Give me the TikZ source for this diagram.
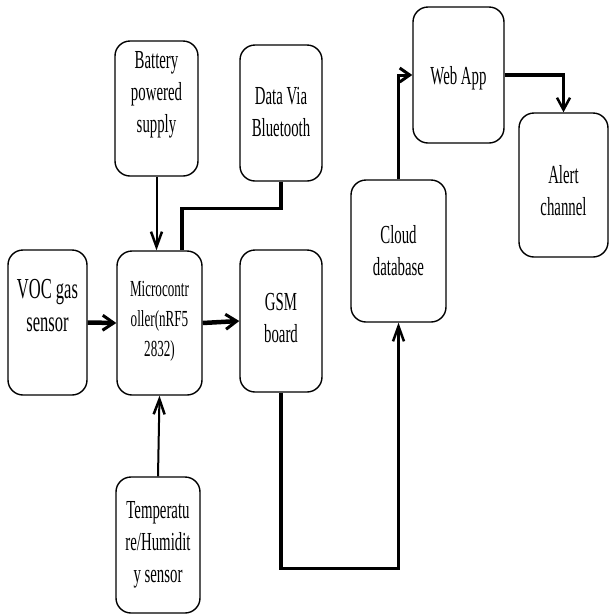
\documentclass[tikz,border=0pt]{standalone}
\usepackage{fontspec}
\setmainfont[FakeStretch=0.57]{Liberation Serif}
\usetikzlibrary{arrows.meta,calc}
\begin{document}
\begin{tikzpicture}[x=1pt,y=-1pt,
  box/.style={draw,line width=1.4pt,rounded corners=15pt,inner sep=0pt},
  txt/.style={align=center,inner sep=0pt,font=\fontsize{26}{32}\selectfont},
  conn/.style={line width=2.5pt,-{Straight Barb[length=12pt,width=13pt,line width=2.5pt]}},
  thin/.style={line width=2pt,-{Straight Barb[length=15pt,width=11pt,line width=2.5pt]}},
  plain/.style={line width=3pt}]
\useasboundingbox (0,0) rectangle (609,614);
% boxes
\node[box,minimum width=83pt,minimum height=135pt] (bat) at (156.5,108.5) {};
\node[txt] (batT) at (156.5,95) {Battery\\powered\\supply};
\node[box,minimum width=82pt,minimum height=136pt] (bt) at (281,113) {};
\node[txt] (btT) at (281,112) {Data Via\\Bluetooth};
\node[box,minimum width=79pt,minimum height=145pt] (voc) at (47.5,322.5) {};
\node[txt,font=\fontsize{29}{33}\selectfont] (vocT) at (47.5,306) {VOC gas\\sensor};
\node[box,minimum width=85pt,minimum height=144pt] (mc) at (159.5,323) {};
\node[txt,font=\fontsize{23}{30}\selectfont] (mcT) at (159.5,321) {Microcontr\\oller(nRF5\\2832)};
\node[box,minimum width=82pt,minimum height=142pt] (gsm) at (281,321) {};
\node[txt] (gsmT) at (281,318) {GSM\\board};
\node[box,minimum width=84pt,minimum height=136pt] (tmp) at (158,545) {};
\node[txt] (tmpT) at (158,545) {Temperatu\\re/Humidit\\y sensor};
\node[box,minimum width=95pt,minimum height=142pt] (cl) at (398.5,251) {};
\node[txt] (clT) at (398.5,251) {Cloud\\database};
\node[box,minimum width=91pt,minimum height=136pt] (web) at (458.5,75) {};
\node[txt] (webT) at (458.5,78) {Web App};
\node[box,minimum width=89pt,minimum height=144pt] (al) at (563.5,185) {};
\node[txt] (alT) at (563.5,191) {Alert\\channel};
% connectors
\draw[thin] (bat.south) -- (bat.south |- mc.north);
\coordinate (btin) at ($(mc.north)+(22.5,0)$);
\draw[plain,line width=3.5pt] (bt.south) -- ++(0,27) -| (btin);
\draw[conn,line width=4.5pt,-{Straight Barb[length=11pt,width=15pt,line width=3pt]}] (voc.east) -- (mc.west);
\draw[conn,line width=4.5pt,-{Straight Barb[length=11pt,width=15pt,line width=3pt]}] (mc.east) -- (gsm.west);
\draw[thin] (tmp.north) -- (mc.south);
\draw[thin,line width=3.5pt] (gsm.south) -- ++(0,176) -| (cl.south);
\draw[conn,line width=3pt,-{Straight Barb[length=10pt,width=14pt,line width=3pt]}] (cl.north) |- (web.west);
\draw[conn,line width=3.5pt] (web.east) -| (al.north);
\end{tikzpicture}
\end{document}
